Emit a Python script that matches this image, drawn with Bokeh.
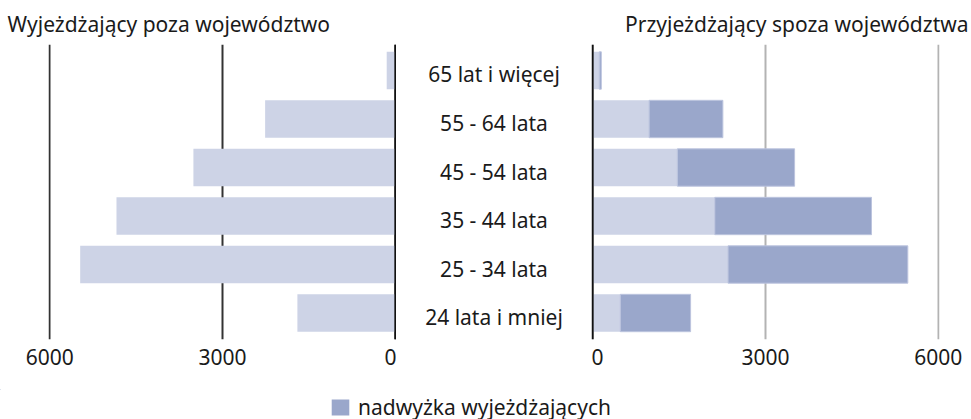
from bokeh.plotting import figure
from bokeh.models import Range1d, FixedTicker, Span, ColumnDataSource, Legend, LegendItem
from bokeh.layouts import row, column
from bokeh.embed import file_html
from bokeh.resources import INLINE
from bokeh.core.properties import value

# ---- data ----
categories = ["24 lata i mniej", "25 - 34 lata", "35 - 44 lata",
              "45 - 54 lata", "55 - 64 lata", "65 lat i więcej"]
outgoing = [1700, 5470, 4840, 3505, 2260, 150]   # wyjeżdżający
incoming = [480, 2350, 2120, 1470, 980, 115]     # przyjeżdżający
ticks = [0, 3000, 6000]
left_title = "Wyjeżdżający poza województwo"
right_title = "Przyjeżdżający spoza województwa"
legend_text = "nadwyżka wyjeżdżających"

# ---- style ----
FONT = "Noto Sans"
FS = "21px"
TXT = "#1a1a1a"
LIGHT = "#cdd3e6"
DARK = "#9aa7cb"

idx = list(range(len(categories)))
src = ColumnDataSource(dict(y=idx, cat=categories, out=outgoing, inc=incoming,
                            zero=[0] * len(categories)))

Y0, Y1 = -0.546, 5.536
H1 = 389
BAR_H = 0.77


def base(width, xr, bl, br, xaxis=True):
    p = figure(width=width, height=H1, x_range=xr, y_range=Range1d(Y0, Y1),
               output_backend="svg", toolbar_location=None,
               x_axis_location="below" if xaxis else None, y_axis_location=None,
               min_border_left=bl, min_border_right=br,
               min_border_top=44, min_border_bottom=50)
    p.outline_line_color = None
    p.background_fill_color = "white"
    p.border_fill_color = "white"
    p.ygrid.visible = False
    if xaxis:
        ax = p.xaxis[0]
        ax.ticker = FixedTicker(ticks=ticks)
        ax.axis_line_color = None
        ax.major_tick_line_color = None
        ax.minor_tick_line_color = None
        ax.major_label_text_font = FONT
        ax.major_label_text_font_size = FS
        ax.major_label_text_color = TXT
        ax.major_label_standoff = 3
        p.xgrid.ticker = FixedTicker(ticks=ticks)
        p.xgrid.grid_line_width = 2
    else:
        p.xgrid.visible = False
    p.title.text_font = FONT
    p.title.text_font_size = FS
    p.title.text_font_style = "normal"
    p.title.text_color = TXT
    p.title.standoff = 14
    return p


# left panel
lp = base(396, Range1d(6020, -20), 48, 0)
lp.xgrid.grid_line_color = "#333333"
lp.title.text = left_title
lp.title.align = "left"
lp.title.offset = -41
lp.hbar(y="y", left="zero", right="out", height=BAR_H, source=src,
        fill_color=LIGHT, line_color=None)
lp.add_layout(Span(location=0, dimension="height", line_color="#111111", line_width=2))

# middle labels
mp = base(195, Range1d(0, 1), 0, 0, xaxis=False)
mp.text(x=0.5, y="y", text="cat", source=src, text_align="center",
        text_baseline="middle", text_font=value(FONT), text_font_size=value(FS),
        text_color=TXT, y_offset=4)

# right panel
rp = base(380, Range1d(-20, 6020), 0, 32)
rp.xgrid.grid_line_color = "#b3b3b3"
rp.title.text = right_title
rp.title.align = "right"
rp.title.offset = -29
rp.hbar(y="y", left="zero", right="inc", height=BAR_H, source=src,
        fill_color=LIGHT, line_color=None)
rp.hbar(y="y", left="inc", right="out", height=BAR_H, source=src,
        fill_color=DARK, line_color="#bcc4de", line_width=1)
rp.add_layout(Span(location=0, dimension="height", line_color="#111111", line_width=2))

# legend strip: its renderer only supplies the legend swatch (bars lie far outside its ranges)
lf = figure(width=971, height=30, x_range=Range1d(90000, 91000), y_range=Range1d(-200, -199),
            output_backend="svg", toolbar_location=None,
            x_axis_location=None, y_axis_location=None,
            min_border_left=0, min_border_right=0, min_border_top=0, min_border_bottom=0)
lf.outline_line_color = None
lf.xgrid.visible = False
lf.ygrid.visible = False
r = lf.hbar(y="y", left="inc", right="out", height=BAR_H, source=src,
            fill_color=DARK, line_color=None)
leg = Legend(items=[LegendItem(label=value(legend_text), renderers=[r])],
             location=(329, -2), orientation="horizontal", padding=0, margin=0,
             glyph_width=22, glyph_height=20, label_standoff=7,
             border_line_color=None, background_fill_alpha=0,
             label_text_font=FONT, label_text_font_size=FS, label_text_color=TXT)
lf.add_layout(leg)

layout = column(row(lp, mp, rp), lf)
open("out.html", "w").write(file_html(layout, INLINE))
